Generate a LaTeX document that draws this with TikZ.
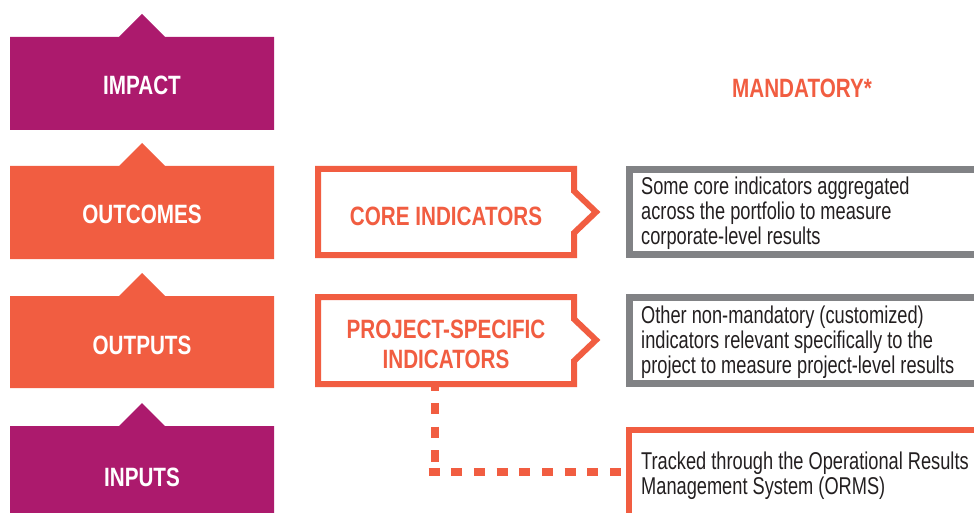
\documentclass[tikz,border=0pt]{standalone}
\usepackage{fontspec}
\newfontfamily\headfont[FakeStretch=0.78]{Liberation Sans}
\newfontfamily\bodyfont[FakeStretch=0.75]{Liberation Sans}
\definecolor{purpleC}{HTML}{AC1A6D}
\definecolor{orangeC}{HTML}{F15D41}
\definecolor{grayC}{HTML}{818285}
\definecolor{textC}{HTML}{231F20}
\begin{document}
\begin{tikzpicture}[x=1pt,y=-1pt,
  lvltext/.style={text=white, font=\headfont\bfseries\fontsize{26.5}{28}\selectfont, inner sep=0pt},
  indtext/.style={text=orangeC, align=center, font=\headfont\bfseries\fontsize{26.5}{30}\selectfont, inner sep=0pt},
  indbox/.style={draw=orangeC, line width=6pt, fill=white, line join=miter},
  descbox/.style={draw=grayC, line width=7pt},
  ormsbox/.style={draw=orangeC, line width=6pt},
  desctext/.style={anchor=west, align=left, text=textC, font=\bodyfont\fontsize{24.3}{25}\selectfont, inner sep=0pt},
  linkv/.style={draw=orangeC, line width=8pt, dash pattern=on 11.5pt off 12.3pt},
  linkh/.style={draw=orangeC, line width=8pt, dash pattern=on 11pt off 11.7pt}]
\useasboundingbox (0,0) rectangle (974,513);
\clip (0,0) rectangle (974,513);

% left level boxes
\fill[purpleC] (10,37) -- (119,37) -- (142,14) -- (165,37) -- (274,37) -- (274,130) -- (10,130) -- cycle;
\node[lvltext] (impact) at (142,85.5) {IMPACT};
\fill[orangeC] (10,166) -- (119,166) -- (142,143) -- (165,166) -- (274,166) -- (274,259) -- (10,259) -- cycle;
\node[lvltext] (outcomes) at (142,214) {OUTCOMES};
\fill[orangeC] (10,296) -- (119,296) -- (142,273) -- (165,296) -- (274,296) -- (274,388) -- (10,388) -- cycle;
\node[lvltext] (outputs) at (142,345.5) {OUTPUTS};
\fill[purpleC] (10,426) -- (119,426) -- (142,403) -- (165,426) -- (274,426) -- (274,520) -- (10,520) -- cycle;
\node[lvltext] (inputs) at (142,477) {INPUTS};

% mandatory label
\node[text=orangeC, font=\headfont\bfseries\fontsize{26.5}{28}\selectfont, inner sep=0pt] (mand) at (802,88) {MANDATORY*};

% dashed connector
\coordinate (pj-s) at (434.5,379);
\coordinate (corner) at (434.5,468);
\coordinate (corner-w) at (428.5,472);
\coordinate (orms-w) at (626,472);
\draw[linkv] (pj-s) -- (corner);
\draw[linkh] (corner-w) -- (orms-w);

% indicator boxes
\draw[indbox] (318,169) -- (574,169) -- (574,191) -- (596,212) -- (574,233) -- (574,255) -- (318,255) -- cycle;
\node[indtext] (core) at (446,216) {CORE INDICATORS};
\draw[indbox] (318,297) -- (574,297) -- (574,319) -- (596,340) -- (574,361) -- (574,384) -- (318,384) -- cycle;
\node[indtext] (proj) at (446,344.5) {PROJECT-SPECIFIC\\INDICATORS};

% description boxes
\draw[descbox] (985,169.5) -- (629.5,169.5) -- (629.5,254.5) -- (985,254.5);
\node[desctext] (d1) at (641,213.5) {Some core indicators aggregated\\across the portfolio to measure\\corporate-level results};
\draw[descbox] (985,297.5) -- (629.5,297.5) -- (629.5,383.5) -- (985,383.5);
\node[desctext] (d2) at (641,342.5) {Other non-mandatory (customized)\\indicators relevant specifically to the\\project to measure project-level results};
\draw[ormsbox] (629,520) -- (629,430) -- (985,430);
\node[desctext] (d3) at (641,475.5) {Tracked through the Operational Results\\Management System (ORMS)};
\end{tikzpicture}
\end{document}
